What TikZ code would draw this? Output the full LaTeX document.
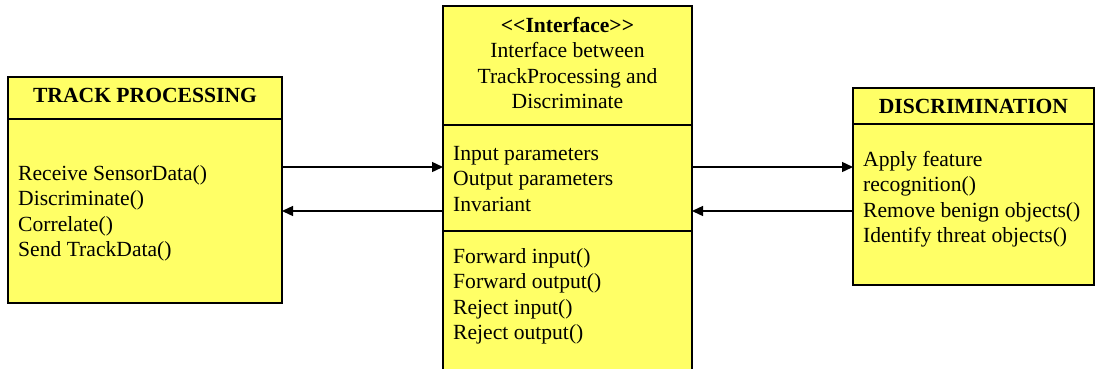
\documentclass[tikz,border=0pt]{standalone}
\usepackage{fontspec}
\setmainfont{Liberation Serif}
\usetikzlibrary{arrows.meta}
\definecolor{boxyellow}{RGB}{255,255,102}

\begin{document}
\begin{tikzpicture}[x=1pt,y=-1pt,
  classbox/.style={draw=black, line width=1.4pt, fill=boxyellow, inner sep=0pt,
    outer sep=0pt, anchor=north west},
  divider/.style={draw=black, line width=1.4pt},
  titletext/.style={inner sep=0pt, anchor=base, font=\fontsize{21.6}{25.5}\selectfont\bfseries},
  % multi-line nodes are placed by the baseline of their last line
  bodytext/.style={inner sep=0pt, anchor=base west, align=left,
    font=\fontsize{21.6}{25.5}\selectfont},
  centertext/.style={inner sep=0pt, anchor=base, align=center,
    font=\fontsize{21.6}{25.5}\selectfont},
  link/.style={draw=black, line width=1.4pt, -{Triangle[length=11pt,width=10pt]}}]

\clip (0,0) rectangle (1096,368);
\useasboundingbox (0,0) rectangle (1096,368);

% class boxes
\node[classbox, minimum width=274pt, minimum height=226pt] (tp) at (8,77) {};
\node[classbox, minimum width=249pt, minimum height=380pt] (iface) at (443,6) {};
\node[classbox, minimum width=241pt, minimum height=197pt] (disc) at (853,88) {};

% compartment separators
\draw[divider] (tp.west |- 0,119) -- (tp.east |- 0,119);
\draw[divider] (iface.west |- 0,125) -- (iface.east |- 0,125);
\draw[divider] (iface.west |- 0,231) -- (iface.east |- 0,231);
\draw[divider] (disc.west |- 0,124) -- (disc.east |- 0,124);

% Track processing
\node[titletext] (tpname) at (145,102.5) {TRACK PROCESSING};
\node[bodytext] (tpops) at (18,256.5) {Receive SensorData()\\Discriminate()\\Correlate()\\Send TrackData()};

% Interface
\node[centertext] (ifname) at (567.5,108.5) {\textbf{{<}{<}Interface{>}{>}}\\Interface between\\TrackProcessing and\\Discriminate};
\node[bodytext] (ifattr) at (453,211) {Input parameters\\Output parameters\\Invariant};
\node[bodytext] (ifops) at (453,339.5) {Forward input()\\Forward output()\\Reject input()\\Reject output()};

% Discrimination
\node[titletext] (discname) at (973.5,113) {DISCRIMINATION};
\node[bodytext] (discops) at (863,242.5) {Apply feature\\recognition()\\Remove benign objects()\\Identify threat objects()};

% message flows
\draw[link] (tp.east |- 0,167) -- (iface.west |- 0,167);
\draw[link] (iface.west |- 0,211) -- (tp.east |- 0,211);
\draw[link] (iface.east |- 0,167) -- (disc.west |- 0,167);
\draw[link] (disc.west |- 0,211) -- (iface.east |- 0,211);
\end{tikzpicture}
\end{document}
